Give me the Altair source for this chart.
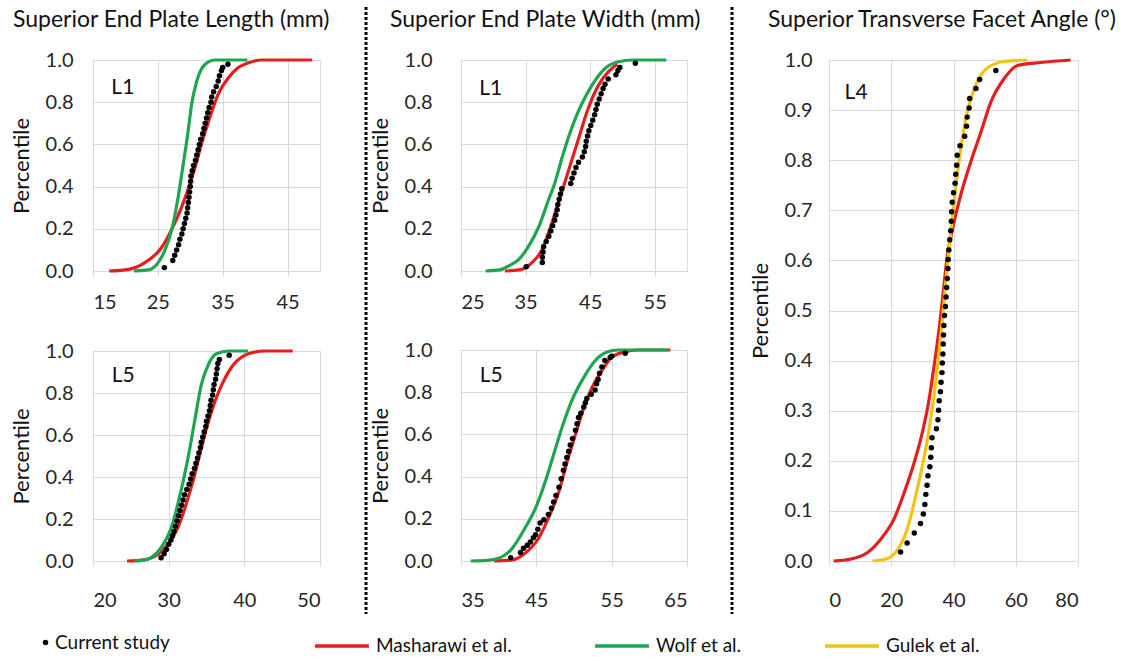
import altair as alt
import pandas as pd

FONT = "Lato"
LEGEND_FONT = "Lato"
RED = "#e31e1e"
GREEN = "#1fa552"
GOLD = "#f4c214"
GRID = "#d9d9d9"

LINE_SERIES = ["Masharawi et al.", "Wolf et al.", "Gulek et al."]
DOT_SERIES = ["Current study"]

# ---------------- Superior end plate length, L1 ----------------
LEN_L1_MASH_X = [17.5, 20.5, 23.0, 25.5, 27.1, 28.6, 29.9, 30.7, 31.7, 33.0, 34.3, 35.9, 37.4, 39.0, 41.0, 48.8]
LEN_L1_MASH_P = [0.0, 0.008, 0.04, 0.108, 0.195, 0.298, 0.409, 0.488, 0.599, 0.726, 0.837, 0.916, 0.964, 0.987, 1.0, 1.0]
LEN_L1_WOLF_X = [21.3, 23.5, 24.8, 26.0, 27.2, 28.1, 28.9, 29.6, 30.2, 31.0, 32.3, 33.8, 38.8]
LEN_L1_WOLF_P = [0.0, 0.005, 0.03, 0.092, 0.203, 0.345, 0.504, 0.647, 0.789, 0.90, 0.98, 1.0, 1.0]
LEN_L1_DOT_X = [26.0, 27.3, 27.6, 27.9, 28.2, 28.4, 28.7, 28.9, 29.1, 29.3, 29.5, 29.6, 29.7, 29.8,
                29.9, 30.0, 30.05, 30.1, 30.3, 30.5, 30.8, 31.0, 31.2, 31.4, 31.6, 31.9, 32.1, 32.3,
                32.5, 32.7, 32.9, 33.2, 33.3, 33.6, 34.0, 34.3, 34.5, 34.8, 35.0, 35.8]
LEN_L1_DOT_P = [0.016, 0.05, 0.075, 0.10, 0.125, 0.15, 0.175, 0.20, 0.225, 0.25, 0.275, 0.30, 0.325, 0.35,
                0.375, 0.40, 0.425, 0.45, 0.475, 0.50, 0.525, 0.55, 0.575, 0.60, 0.625, 0.65, 0.675, 0.70,
                0.725, 0.75, 0.775, 0.80, 0.825, 0.85, 0.875, 0.90, 0.925, 0.95, 0.965, 0.98]

# ---------------- Superior end plate length, L5 ----------------
LEN_L5_MASH_X = [24.5, 26.5, 28.6, 29.9, 31.2, 32.3, 33.2, 34.1, 35.0, 36.1, 37.2, 38.5, 40.1, 41.4, 42.7, 46.4]
LEN_L5_MASH_P = [0.0, 0.004, 0.032, 0.079, 0.158, 0.269, 0.379, 0.506, 0.632, 0.758, 0.853, 0.932, 0.98, 0.995, 1.0, 1.0]
LEN_L5_WOLF_X = [25.5, 26.5, 27.7, 29.0, 30.35, 31.2, 32.1, 32.8, 33.5, 34.3, 35.2, 36.3, 37.9, 40.5]
LEN_L5_WOLF_P = [0.0, 0.003, 0.016, 0.063, 0.158, 0.269, 0.41, 0.537, 0.68, 0.837, 0.932, 0.987, 1.0, 1.0]
LEN_L5_DOT_X = [29.0, 29.4, 29.7, 30.0, 30.3, 30.5, 30.7, 30.9, 31.1, 31.3, 31.5, 31.7, 31.9, 32.1,
                32.4, 32.7, 32.9, 33.1, 33.4, 33.6, 33.8, 34.0, 34.2, 34.3, 34.5, 34.7, 34.9, 35.0,
                35.2, 35.4, 35.5, 35.6, 35.8, 35.9, 36.0, 36.2, 36.3, 36.4, 36.5, 36.7, 38.0]
LEN_L5_DOT_P = [0.016, 0.035, 0.055, 0.08, 0.10, 0.12, 0.14, 0.165, 0.19, 0.215, 0.24, 0.265, 0.29, 0.315,
                0.34, 0.365, 0.39, 0.415, 0.44, 0.465, 0.49, 0.515, 0.54, 0.565, 0.59, 0.615, 0.64, 0.665,
                0.69, 0.715, 0.74, 0.765, 0.79, 0.815, 0.84, 0.865, 0.89, 0.915, 0.94, 0.96, 0.98]

# ---------------- Superior end plate width, L1 ----------------
WID_L1_MASH_X = [31.8, 34.0, 36.0, 37.6, 39.1, 40.6, 41.9, 43.2, 44.7, 46.3, 47.8, 49.2]
WID_L1_MASH_P = [0.0, 0.005, 0.04, 0.103, 0.23, 0.373, 0.5, 0.627, 0.77, 0.881, 0.944, 0.98]
WID_L1_WOLF_X = [28.8, 31.0, 32.4, 34.0, 35.5, 37.1, 38.6, 39.4, 40.9, 42.7, 45.3, 47.3, 49.4, 51.5, 56.8]
WID_L1_WOLF_P = [0.0, 0.005, 0.024, 0.056, 0.119, 0.214, 0.341, 0.405, 0.563, 0.722, 0.881, 0.96, 0.992, 1.0, 1.0]
WID_L1_DOT_X = [35.1, 37.6, 37.6, 37.7, 37.8, 38.2, 38.6, 38.9, 39.2, 39.5, 39.7, 39.9, 40.0, 40.2,
                40.4, 40.6, 42.0, 42.2, 42.5, 42.8, 43.2, 43.8, 44.1, 44.3, 44.4, 44.6, 44.8, 45.1,
                45.4, 45.7, 45.9, 46.1, 46.4, 46.7, 47.0, 47.3, 47.8, 49.0, 49.3, 49.6, 52.0]
WID_L1_DOT_P = [0.02, 0.04, 0.065, 0.09, 0.115, 0.14, 0.165, 0.19, 0.215, 0.24, 0.265, 0.29, 0.315, 0.34,
                0.365, 0.39, 0.415, 0.44, 0.465, 0.49, 0.515, 0.54, 0.565, 0.59, 0.615, 0.64, 0.665, 0.69,
                0.715, 0.74, 0.765, 0.79, 0.815, 0.84, 0.865, 0.885, 0.91, 0.93, 0.95, 0.965, 0.985]

# ---------------- Superior end plate width, L5 ----------------
WID_L5_MASH_X = [39.4, 41.8, 43.5, 45.3, 46.6, 48.0, 49.1, 50.2, 51.3, 52.4, 53.7, 55.0, 56.8, 58.5, 62.8]
WID_L5_MASH_P = [0.0, 0.005, 0.037, 0.108, 0.203, 0.33, 0.473, 0.6, 0.727, 0.822, 0.902, 0.965, 0.992, 1.0, 1.0]
WID_L5_WOLF_X = [36.3, 38.5, 40.0, 41.8, 43.5, 44.9, 46.2, 47.3, 48.4, 49.7, 51.3, 52.8, 54.3, 55.9, 62.5]
WID_L5_WOLF_P = [0.0, 0.003, 0.013, 0.06, 0.156, 0.251, 0.378, 0.505, 0.632, 0.759, 0.87, 0.949, 0.989, 1.0, 1.0]
WID_L5_DOT_X = [41.6, 42.9, 43.3, 43.8, 44.2, 44.6, 44.9, 45.2, 45.5, 46.0, 46.6, 47.0, 47.3, 47.6,
                48.0, 48.3, 48.6, 48.8, 49.05, 49.3, 49.5, 49.8, 50.2, 50.4, 50.6, 50.9, 51.3, 51.5,
                51.7, 52.3, 52.8, 53.0, 53.2, 53.4, 53.7, 54.1, 54.8, 55.0, 56.8]
WID_L5_DOT_P = [0.016, 0.04, 0.06, 0.075, 0.09, 0.11, 0.125, 0.15, 0.18, 0.195, 0.22, 0.25, 0.28, 0.31,
                0.35, 0.39, 0.43, 0.46, 0.49, 0.52, 0.55, 0.58, 0.62, 0.65, 0.68, 0.70, 0.73, 0.75,
                0.77, 0.79, 0.81, 0.84, 0.86, 0.89, 0.92, 0.95, 0.965, 0.97, 0.985]

# ---------------- Superior transverse facet angle, L4 ----------------
FAC_L4_MASH_X = [1.5, 7.1, 12.4, 16.7, 20.9, 24.2, 27.4, 30.0, 32.2, 33.8, 35.4, 36.5, 37.9, 39.7,
                 42.3, 45.5, 48.8, 52.0, 56.3, 60.5, 68.0, 77.6]
FAC_L4_MASH_P = [0.0, 0.004, 0.017, 0.044, 0.084, 0.137, 0.197, 0.257, 0.324, 0.391, 0.464, 0.524, 0.603, 0.663,
                 0.73, 0.796, 0.856, 0.916, 0.963, 0.989, 0.995, 1.0]
FAC_L4_GULEK_X = [14.0, 18.8, 22.0, 25.2, 28.6, 31.2, 33.4, 35.0, 36.4, 37.6, 38.8, 40.2, 41.9, 44.0,
                  47.3, 50.9, 56.3, 63.7]
FAC_L4_GULEK_P = [0.0, 0.005, 0.022, 0.065, 0.15, 0.228, 0.315, 0.395, 0.48, 0.56, 0.635, 0.717, 0.804, 0.884,
                  0.952, 0.984, 0.997, 1.0]
FAC_L4_DOT_X = [23.0, 25.1, 27.4, 29.4, 30.3, 30.8, 31.1, 31.5, 31.8, 32.4, 32.7, 32.9, 33.1, 34.5,
                35.0, 35.2, 35.4, 35.8, 36.0, 36.3, 36.4, 36.6, 36.7, 36.8, 36.9, 37.1, 37.4, 37.6,
                37.8, 38.0, 38.2, 38.3, 38.5, 38.8, 39.1, 39.3, 39.4, 39.6, 40.0, 40.5, 40.7, 41.0,
                41.2, 42.1, 43.6, 44.2, 44.4, 45.0, 45.2, 47.2, 48.4, 53.6]
FAC_L4_DOT_P = [0.018, 0.036, 0.056, 0.075, 0.094, 0.113, 0.133, 0.151, 0.170, 0.188, 0.207, 0.226, 0.246, 0.264,
                0.282, 0.301, 0.320, 0.338, 0.357, 0.376, 0.395, 0.413, 0.433, 0.451, 0.470, 0.490, 0.508, 0.527,
                0.546, 0.564, 0.584, 0.602, 0.621, 0.641, 0.659, 0.678, 0.697, 0.716, 0.735, 0.754, 0.772, 0.790,
                0.810, 0.829, 0.848, 0.868, 0.886, 0.904, 0.923, 0.943, 0.961, 0.979]

TICKS_02 = [0.0, 0.2, 0.4, 0.6, 0.8, 1.0]
TICKS_01 = [0.0, 0.1, 0.2, 0.3, 0.4, 0.5, 0.6, 0.7, 0.8, 0.9, 1.0]


def curve_df(xs, ps, name):
    return pd.DataFrame({"v": xs, "p": ps, "series": name, "k": list(range(len(xs)))})


def dots_df(xs, ps):
    return pd.DataFrame({"v": xs, "p": ps, "series": DOT_SERIES[0]})


line_color = alt.Color(
    "series:N",
    scale=alt.Scale(domain=LINE_SERIES, range=[RED, GREEN, GOLD]),
    legend=alt.Legend(
        title=None, orient="none", direction="horizontal", legendX=220, legendY=557,
        symbolType="stroke", symbolSize=2900, symbolStrokeWidth=3.5, labelFont=LEGEND_FONT,
        labelFontSize=19, labelColor="#111111", labelOffset=5, columnPadding=76,
    ),
)
dot_fill = alt.Fill(
    "series:N",
    scale=alt.Scale(domain=DOT_SERIES, range=["#000000"]),
    legend=alt.Legend(
        title=None, orient="none", direction="horizontal", legendX=-57, legendY=573,
        symbolType="circle", symbolSize=30, labelFont=LEGEND_FONT, labelFontSize=19,
        labelColor="#111111", labelOffset=0,
    ),
)


def panel(curves, dots, xdom, xticks, yticks, label, lab_v, lab_p, w, h,
          xpad, ypad, title=None, title_dx=0, separators=None):
    x = alt.X("v:Q", scale=alt.Scale(domain=xdom, nice=False, zero=False),
              axis=alt.Axis(values=xticks, title=None, grid=True, gridColor=GRID,
                            domainColor=GRID, tickColor=GRID, tickSize=5,
                            labelFontSize=20, labelColor="#262626", labelPadding=xpad,
                            labelFont=FONT, format="d"))
    y = alt.Y("p:Q", scale=alt.Scale(domain=[0, 1], nice=False, zero=False),
              axis=alt.Axis(values=yticks, format=".1f", title="Percentile", grid=True,
                            gridColor=GRID, domain=False, ticks=False,
                            labelFontSize=20, labelColor="#262626", labelPadding=ypad,
                            labelFont=FONT, titleFont=FONT, titleFontSize=22,
                            titleFontWeight="normal", titleColor="#111111", titlePadding=12))
    layers = []
    for xs, ps, name in curves:
        layers.append(
            alt.Chart(curve_df(xs, ps, name)).mark_line(interpolate="monotone", strokeWidth=3.2)
            .encode(x=x, y=y, color=line_color, order="k:Q")
        )
    layers.append(
        alt.Chart(dots_df(*dots)).mark_circle(size=30, opacity=1)
        .encode(x=x, y=y, fill=dot_fill)
    )
    layers.append(
        alt.Chart(pd.DataFrame({"v": [lab_v], "p": [lab_p], "t": [label]}))
        .mark_text(font=FONT, fontSize=21, color="#111111", align="center", baseline="middle")
        .encode(x=x, y=y, text="t:N")
    )
    if separators:
        sep_df = pd.DataFrame({"a": [0]})
        for sx, sy, sy2 in separators:
            layers.append(
                alt.Chart(sep_df).mark_rule(color="#000000", strokeWidth=3, strokeDash=[3, 2])
                .encode(x=alt.value(sx), y=alt.value(sy), y2=alt.value(sy2))
            )
    ch = alt.layer(*layers).properties(width=w, height=h)
    if title:
        ch = ch.properties(title=alt.TitleParams(
            title, anchor="start", frame="group", dx=title_dx, fontSize=23,
            fontWeight="normal", font=FONT, color="#111111", baseline="alphabetic", offset=0))
    return ch


p1 = panel([(LEN_L1_MASH_X, LEN_L1_MASH_P, "Masharawi et al."),
            (LEN_L1_WOLF_X, LEN_L1_WOLF_P, "Wolf et al.")],
           (LEN_L1_DOT_X, LEN_L1_DOT_P), [15, 50], [15, 25, 35, 45], TICKS_02,
           "L1", 19.6, 0.867, 227, 211, 16, 20,
           title="Superior End Plate Length (mm)", title_dx=-80)
p2 = panel([(LEN_L5_MASH_X, LEN_L5_MASH_P, "Masharawi et al."),
            (LEN_L5_WOLF_X, LEN_L5_WOLF_P, "Wolf et al.")],
           (LEN_L5_DOT_X, LEN_L5_DOT_P), [20, 50], [20, 30, 40, 50], TICKS_02,
           "L5", 24.0, 0.88, 227, 210, 24, 20)
p3 = panel([(WID_L1_MASH_X, WID_L1_MASH_P, "Masharawi et al."),
            (WID_L1_WOLF_X, WID_L1_WOLF_P, "Wolf et al.")],
           (WID_L1_DOT_X, WID_L1_DOT_P), [25, 60], [25, 35, 45, 55], TICKS_02,
           "L1", 29.6, 0.863, 226, 211, 16, 29,
           title="Superior End Plate Width (mm)", title_dx=-71)
p4 = panel([(WID_L5_MASH_X, WID_L5_MASH_P, "Masharawi et al."),
            (WID_L5_WOLF_X, WID_L5_WOLF_P, "Wolf et al.")],
           (WID_L5_DOT_X, WID_L5_DOT_P), [35, 65], [35, 45, 55, 65], TICKS_02,
           "L5", 39.0, 0.877, 226, 211, 24, 29,
           separators=[(-95, -343, 264), (271, -343, 264)])
p5 = panel([(FAC_L4_MASH_X, FAC_L4_MASH_P, "Masharawi et al."),
            (FAC_L4_GULEK_X, FAC_L4_GULEK_P, "Gulek et al.")],
           (FAC_L4_DOT_X, FAC_L4_DOT_P), [0, 80], [0, 20, 40, 60, 80], TICKS_01,
           "L4", 8.7, 0.934, 249, 501, 24, 17,
           title="Superior Transverse Facet Angle (°)", title_dx=-61)

col1 = alt.vconcat(p1, p2, spacing=80, bounds="flush")
col2 = alt.vconcat(p3, p4, spacing=79, bounds="flush")
chart = (
    alt.hconcat(col1, col2, p5, spacing=368, bounds="flush")
    .properties(padding={"left": 9, "top": 5, "right": 0, "bottom": 0})
    .configure_view(stroke=None)
    .configure(font=FONT)
)
chart.save("out.html", embed_options={"renderer": "svg", "actions": False})
